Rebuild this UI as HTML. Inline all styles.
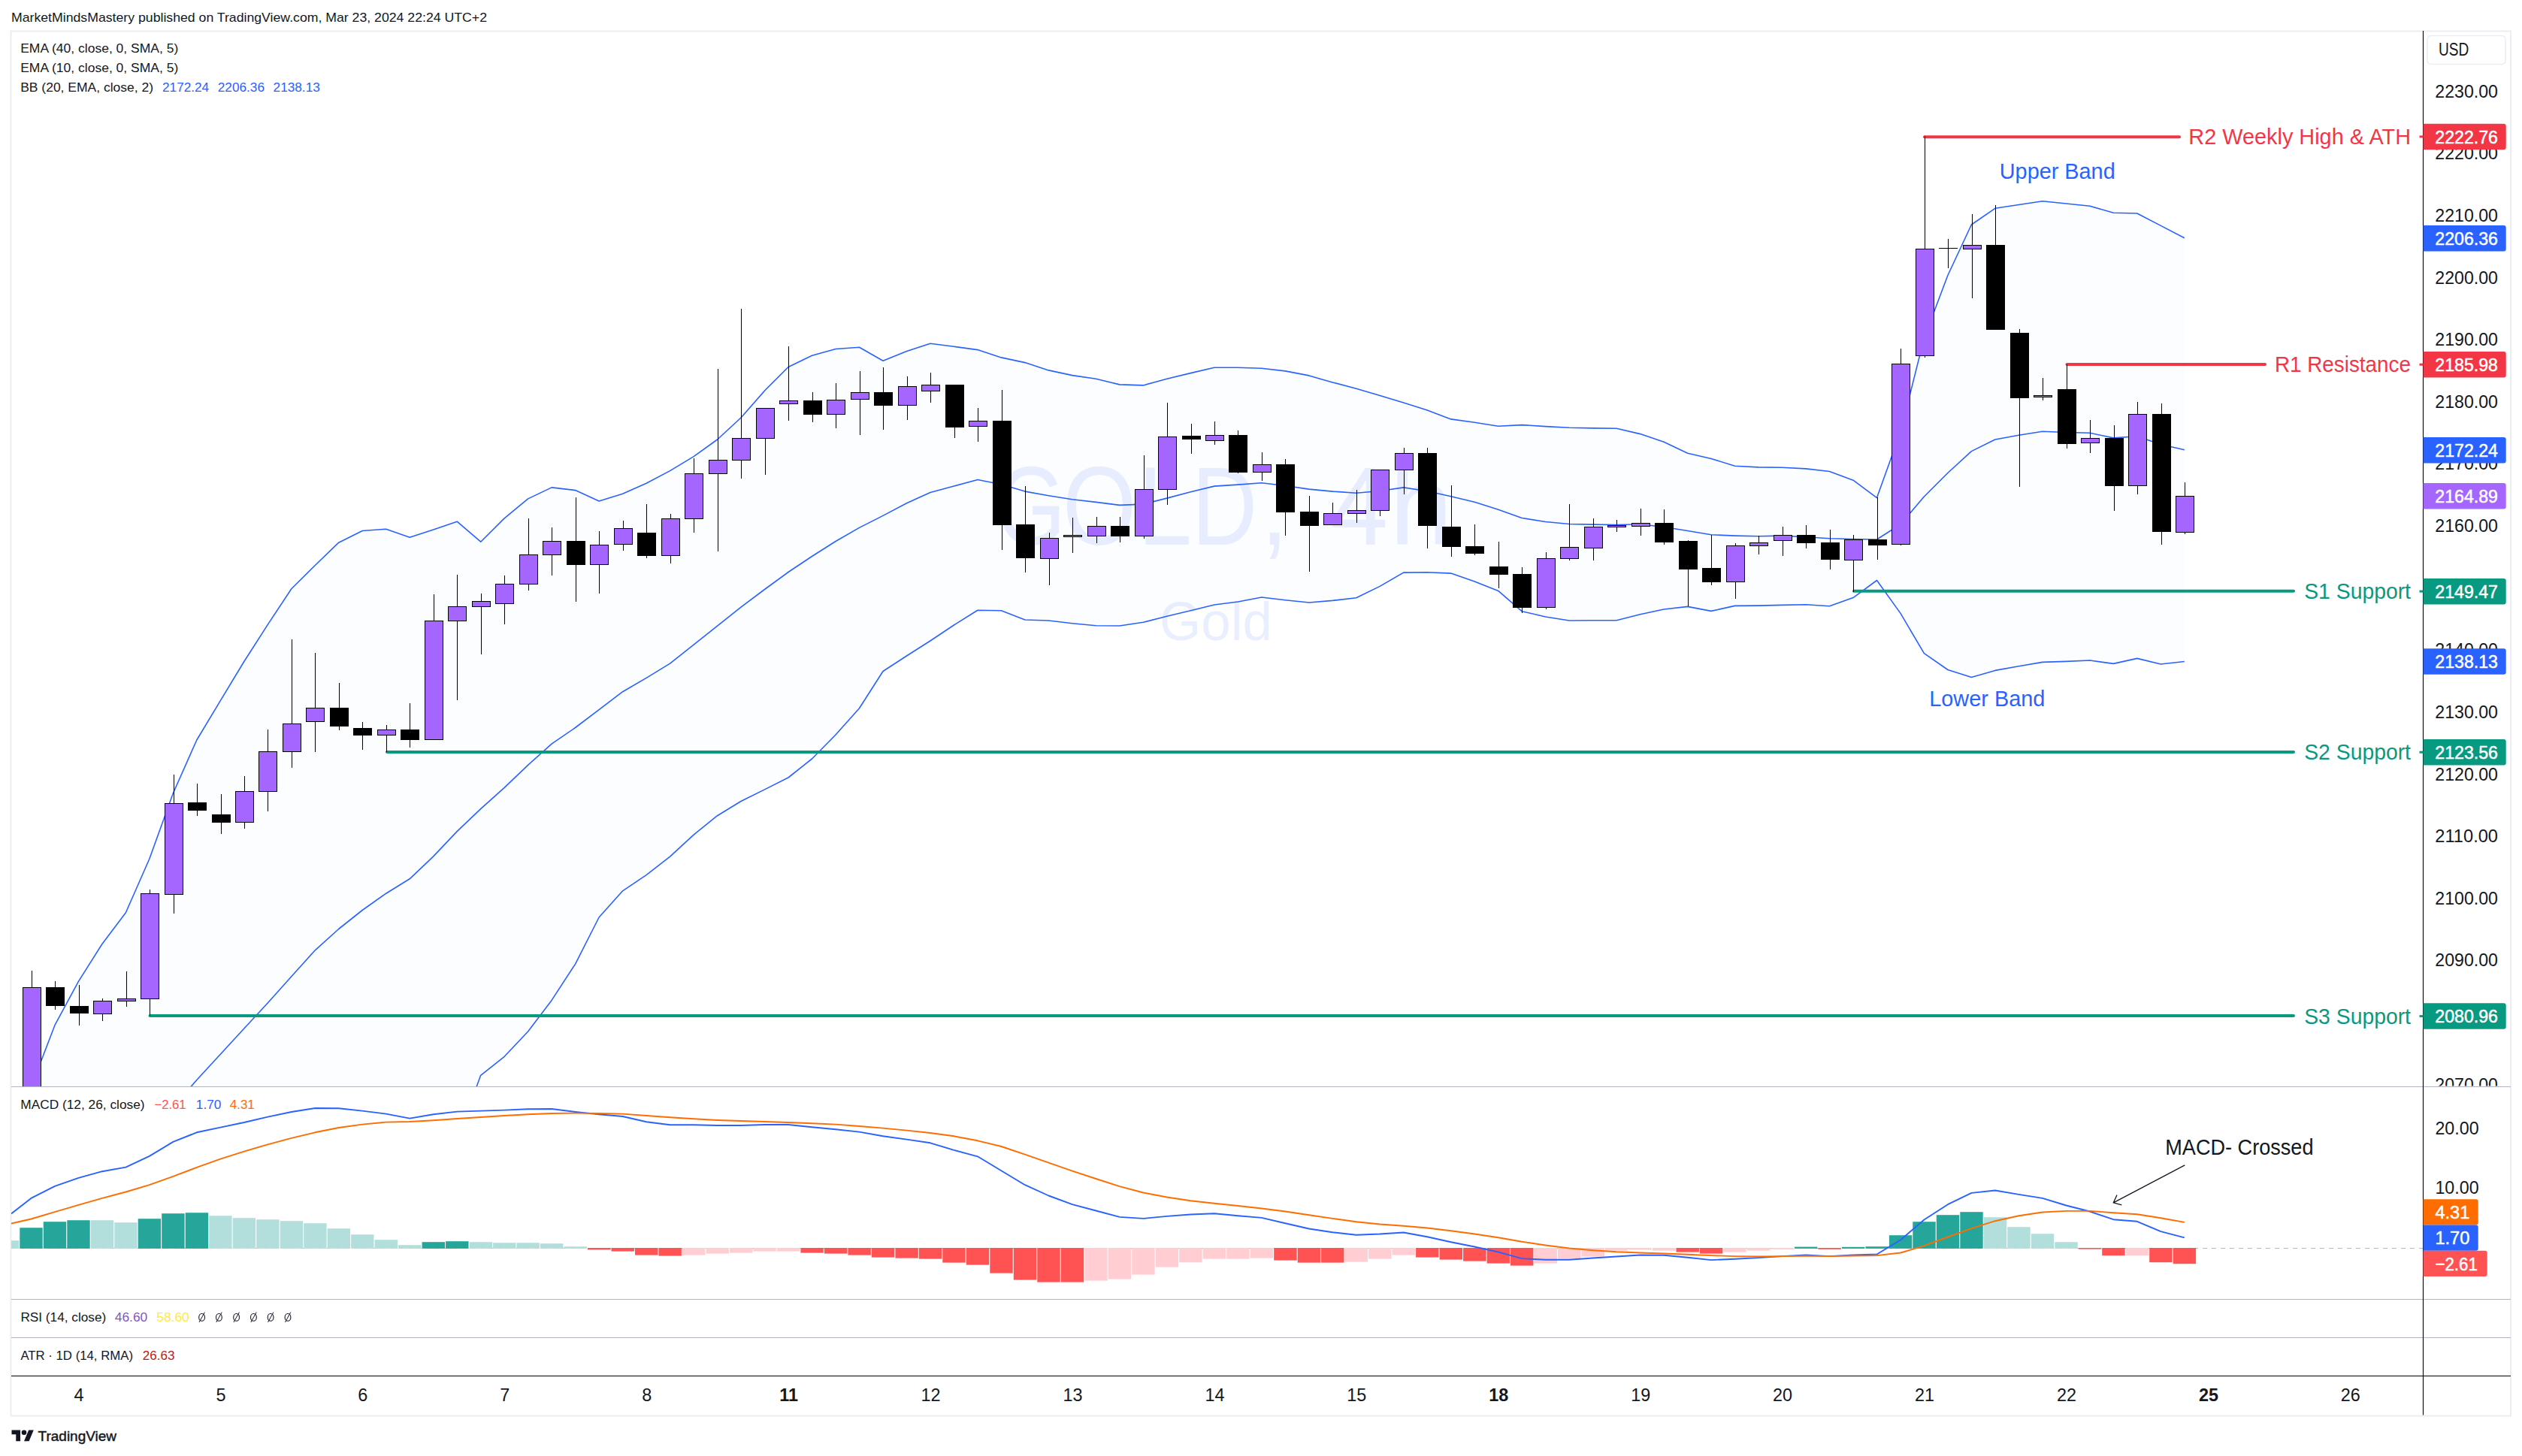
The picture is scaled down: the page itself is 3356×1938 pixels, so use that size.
<!DOCTYPE html>
<html><head><meta charset="utf-8"><title>GOLD 4h</title><style>html,body{margin:0;padding:0;background:#fff}body{width:3356px;height:1938px;overflow:hidden}</style></head><body>
<svg width="3356" height="1938" viewBox="0 0 3356 1938" font-family="'Liberation Sans', sans-serif" style="display:block">
<defs>
<clipPath id="cm"><rect x="15" y="42" width="3209.5" height="1404.5"/></clipPath>
<clipPath id="cax"><rect x="3224.5" y="42" width="116.5" height="1403.5"/></clipPath>
<clipPath id="cd"><rect x="15" y="1446.5" width="3209.5" height="283.0"/></clipPath>
</defs>
<rect width="3356" height="1938" fill="#fff"/>
<text x="15.0" y="28.9" font-size="16.6" fill="#131722" textLength="633.0" lengthAdjust="spacingAndGlyphs" >MarketMindsMastery published on TradingView.com, Mar 23, 2024 22:24 UTC+2</text>
<rect x="14.5" y="41.5" width="3326.5" height="1843.1" fill="none" stroke="#EBEDF3" stroke-width="2"/>
<text x="1325.0" y="725.0" font-size="149" fill="#EAEFFF" textLength="93.0" lengthAdjust="spacingAndGlyphs" >G</text>
<text x="1414.0" y="725.0" font-size="149" fill="#EAEFFF" textLength="98.0" lengthAdjust="spacingAndGlyphs" >O</text>
<text x="1514.0" y="725.0" font-size="149" fill="#EAEFFF" textLength="72.0" lengthAdjust="spacingAndGlyphs" >L</text>
<text x="1586.0" y="725.0" font-size="149" fill="#EAEFFF" textLength="87.0" lengthAdjust="spacingAndGlyphs" >D</text>
<text x="1678.0" y="725.0" font-size="149" fill="#EAEFFF" textLength="36.0" lengthAdjust="spacingAndGlyphs" >,</text>
<text x="1770.0" y="725.0" font-size="149" fill="#EAEFFF" textLength="77.0" lengthAdjust="spacingAndGlyphs" >4</text>
<text x="1849.0" y="725.0" font-size="149" fill="#EAEFFF" textLength="84.0" lengthAdjust="spacingAndGlyphs" >h</text>
<text x="1543.0" y="852.0" font-size="72" fill="#EAEFFF" textLength="150.0" lengthAdjust="spacingAndGlyphs" >Gold</text>
<g clip-path="url(#cm)">
<polygon fill="rgba(41,98,255,0.013)" points="41.4,1447.0 72.9,1364.7 104.4,1306.4 135.9,1256.5 167.4,1214.8 198.8,1143.2 230.3,1056.0 261.8,985.0 293.3,932.6 324.8,880.5 356.3,831.4 387.8,783.8 419.3,752.5 450.7,722.2 482.2,706.5 513.7,704.2 545.2,715.2 576.7,704.9 608.2,694.2 639.7,721.2 671.2,689.9 702.6,663.9 734.1,648.9 765.6,652.6 797.1,666.9 828.6,657.3 860.1,643.3 891.6,626.6 923.1,607.6 954.6,585.0 986.0,556.0 1017.5,520.0 1049.0,488.5 1080.5,473.3 1112.0,464.5 1143.5,462.3 1175.0,480.3 1206.5,467.6 1237.9,457.3 1269.4,461.3 1300.9,465.6 1332.4,475.9 1363.9,482.6 1395.4,492.9 1426.9,499.6 1458.4,504.2 1489.8,511.9 1521.3,512.9 1552.8,504.2 1584.3,496.6 1615.8,489.3 1647.3,489.3 1678.8,490.3 1710.3,493.9 1741.8,499.9 1773.2,508.9 1804.7,517.2 1836.2,526.6 1867.7,535.9 1899.2,545.9 1930.7,557.9 1962.2,562.3 1993.7,567.2 2025.1,565.6 2056.6,567.6 2088.1,569.2 2119.6,569.9 2151.1,570.2 2182.6,577.6 2214.1,588.2 2245.6,603.2 2277.0,610.5 2308.5,620.2 2340.0,621.9 2371.5,622.2 2403.0,623.9 2434.5,627.5 2466.0,639.2 2497.5,662.6 2529.0,575.0 2560.4,450.0 2591.9,366.5 2623.4,299.0 2654.9,277.3 2686.4,272.5 2717.9,267.8 2749.4,271.0 2780.9,274.3 2812.3,283.2 2843.8,284.0 2875.3,300.4 2906.8,316.8 2906.8,880.5 2875.3,884.0 2843.8,876.4 2812.3,883.4 2780.9,879.0 2749.4,880.4 2717.9,881.4 2686.4,886.7 2654.9,892.4 2623.4,901.5 2591.9,891.5 2560.4,869.7 2529.0,816.4 2497.5,772.5 2466.0,795.6 2434.5,806.7 2403.0,804.7 2371.5,805.4 2340.0,806.1 2308.5,806.4 2277.0,813.4 2245.6,807.4 2214.1,811.0 2182.6,817.7 2151.1,825.7 2119.6,825.7 2088.1,826.0 2056.6,821.0 2025.1,813.7 1993.7,786.4 1962.2,774.1 1930.7,763.1 1899.2,761.8 1867.7,762.1 1836.2,780.4 1804.7,795.7 1773.2,799.4 1741.8,802.0 1710.3,798.7 1678.8,795.0 1647.3,801.0 1615.8,805.0 1584.3,812.7 1552.8,820.3 1521.3,828.3 1489.8,833.0 1458.4,832.7 1426.9,829.7 1395.4,826.0 1363.9,825.0 1332.4,812.7 1300.9,812.2 1269.4,832.0 1237.9,853.0 1206.5,873.0 1175.0,893.5 1143.5,942.8 1112.0,978.0 1080.5,1010.0 1049.0,1035.0 1017.5,1050.9 986.0,1066.5 954.6,1085.7 923.1,1111.1 891.6,1140.1 860.1,1164.7 828.6,1185.8 797.1,1221.0 765.6,1283.1 734.1,1331.4 702.6,1373.0 671.2,1406.3 639.7,1431.3 608.2,1517.0 576.7,1600.0 545.2,1600.0 513.7,1600.0 482.2,1600.0 450.7,1600.0 419.3,1600.0 387.8,1600.0 356.3,1600.0 324.8,1600.0 293.3,1600.0 261.8,1600.0 230.3,1600.0 198.8,1600.0 167.4,1600.0 135.9,1600.0 104.4,1600.0 72.9,1600.0 41.4,1600.0"/>
<polyline fill="none" stroke="#2962FF" stroke-width="1.6" stroke-linejoin="round" points="41.4,1447.0 72.9,1364.7 104.4,1306.4 135.9,1256.5 167.4,1214.8 198.8,1143.2 230.3,1056.0 261.8,985.0 293.3,932.6 324.8,880.5 356.3,831.4 387.8,783.8 419.3,752.5 450.7,722.2 482.2,706.5 513.7,704.2 545.2,715.2 576.7,704.9 608.2,694.2 639.7,721.2 671.2,689.9 702.6,663.9 734.1,648.9 765.6,652.6 797.1,666.9 828.6,657.3 860.1,643.3 891.6,626.6 923.1,607.6 954.6,585.0 986.0,556.0 1017.5,520.0 1049.0,488.5 1080.5,473.3 1112.0,464.5 1143.5,462.3 1175.0,480.3 1206.5,467.6 1237.9,457.3 1269.4,461.3 1300.9,465.6 1332.4,475.9 1363.9,482.6 1395.4,492.9 1426.9,499.6 1458.4,504.2 1489.8,511.9 1521.3,512.9 1552.8,504.2 1584.3,496.6 1615.8,489.3 1647.3,489.3 1678.8,490.3 1710.3,493.9 1741.8,499.9 1773.2,508.9 1804.7,517.2 1836.2,526.6 1867.7,535.9 1899.2,545.9 1930.7,557.9 1962.2,562.3 1993.7,567.2 2025.1,565.6 2056.6,567.6 2088.1,569.2 2119.6,569.9 2151.1,570.2 2182.6,577.6 2214.1,588.2 2245.6,603.2 2277.0,610.5 2308.5,620.2 2340.0,621.9 2371.5,622.2 2403.0,623.9 2434.5,627.5 2466.0,639.2 2497.5,662.6 2529.0,575.0 2560.4,450.0 2591.9,366.5 2623.4,299.0 2654.9,277.3 2686.4,272.5 2717.9,267.8 2749.4,271.0 2780.9,274.3 2812.3,283.2 2843.8,284.0 2875.3,300.4 2906.8,316.8"/>
<polyline fill="none" stroke="#2962FF" stroke-width="1.6" stroke-linejoin="round" points="230.3,1474.0 261.8,1437.5 293.3,1403.2 324.8,1369.0 356.3,1335.0 387.8,1299.8 419.3,1264.8 450.7,1236.5 482.2,1211.5 513.7,1189.2 545.2,1169.8 576.7,1139.9 608.2,1106.6 639.7,1076.6 671.2,1048.3 702.6,1018.3 734.1,990.2 765.6,968.5 797.1,944.7 828.6,920.7 860.1,902.4 891.6,883.1 923.1,858.1 954.6,833.1 986.0,808.1 1017.5,784.5 1049.0,761.5 1080.5,740.5 1112.0,720.5 1143.5,702.4 1175.0,686.4 1206.5,669.8 1237.9,655.5 1269.4,647.1 1300.9,638.5 1332.4,644.8 1363.9,654.1 1395.4,659.8 1426.9,664.8 1458.4,668.4 1489.8,672.4 1521.3,671.1 1552.8,663.1 1584.3,654.8 1615.8,647.1 1647.3,645.1 1678.8,642.8 1710.3,646.5 1741.8,651.1 1773.2,654.1 1804.7,656.2 1836.2,653.5 1867.7,648.9 1899.2,653.8 1930.7,660.8 1962.2,668.2 1993.7,678.2 2025.1,689.5 2056.6,694.5 2088.1,697.5 2119.6,698.1 2151.1,698.5 2182.6,697.8 2214.1,701.5 2245.6,706.5 2277.0,711.8 2308.5,713.1 2340.0,713.8 2371.5,713.1 2403.0,714.8 2434.5,716.8 2466.0,717.5 2497.5,718.0 2529.0,698.0 2560.4,661.0 2591.9,629.5 2623.4,600.6 2654.9,585.0 2686.4,579.2 2717.9,574.2 2749.4,575.5 2780.9,576.3 2812.3,582.9 2843.8,580.8 2875.3,591.5 2906.8,598.7"/>
<polyline fill="none" stroke="#2962FF" stroke-width="1.6" stroke-linejoin="round" points="608.2,1517.0 639.7,1431.3 671.2,1406.3 702.6,1373.0 734.1,1331.4 765.6,1283.1 797.1,1221.0 828.6,1185.8 860.1,1164.7 891.6,1140.1 923.1,1111.1 954.6,1085.7 986.0,1066.5 1017.5,1050.9 1049.0,1035.0 1080.5,1010.0 1112.0,978.0 1143.5,942.8 1175.0,893.5 1206.5,873.0 1237.9,853.0 1269.4,832.0 1300.9,812.2 1332.4,812.7 1363.9,825.0 1395.4,826.0 1426.9,829.7 1458.4,832.7 1489.8,833.0 1521.3,828.3 1552.8,820.3 1584.3,812.7 1615.8,805.0 1647.3,801.0 1678.8,795.0 1710.3,798.7 1741.8,802.0 1773.2,799.4 1804.7,795.7 1836.2,780.4 1867.7,762.1 1899.2,761.8 1930.7,763.1 1962.2,774.1 1993.7,786.4 2025.1,813.7 2056.6,821.0 2088.1,826.0 2119.6,825.7 2151.1,825.7 2182.6,817.7 2214.1,811.0 2245.6,807.4 2277.0,813.4 2308.5,806.4 2340.0,806.1 2371.5,805.4 2403.0,804.7 2434.5,806.7 2466.0,795.6 2497.5,772.5 2529.0,816.4 2560.4,869.7 2591.9,891.5 2623.4,901.5 2654.9,892.4 2686.4,886.7 2717.9,881.4 2749.4,880.4 2780.9,879.0 2812.3,883.4 2843.8,876.4 2875.3,884.0 2906.8,880.5"/>
<line x1="2561" x2="2900" y1="182.2" y2="182.2" stroke="#F23645" stroke-width="4" stroke-linecap="round"/>
<line x1="2750.5" x2="3014" y1="485" y2="485" stroke="#F23645" stroke-width="4" stroke-linecap="round"/>
<line x1="2467" x2="3052" y1="786.8" y2="786.8" stroke="#089981" stroke-width="4" stroke-linecap="round"/>
<line x1="515" x2="3052" y1="1001" y2="1001" stroke="#089981" stroke-width="4" stroke-linecap="round"/>
<line x1="199.5" x2="3052" y1="1352.0" y2="1352.0" stroke="#089981" stroke-width="4" stroke-linecap="round"/>
<rect x="42" y="1292" width="1" height="178" fill="#000"/>
<rect x="30" y="1314" width="25" height="156" fill="#000"/>
<rect x="31" y="1315" width="23" height="154" fill="#A566FF"/>
<rect x="73" y="1306" width="1" height="38" fill="#000"/>
<rect x="61" y="1314" width="25" height="25" fill="#000"/>
<rect x="105" y="1311" width="1" height="54" fill="#000"/>
<rect x="93" y="1339" width="25" height="10" fill="#000"/>
<rect x="136" y="1329" width="1" height="30" fill="#000"/>
<rect x="124" y="1332" width="25" height="18" fill="#000"/>
<rect x="125" y="1333" width="23" height="16" fill="#A566FF"/>
<rect x="168" y="1293" width="1" height="47" fill="#000"/>
<rect x="156" y="1329" width="25" height="4" fill="#000"/>
<rect x="157" y="1330" width="23" height="2" fill="#A566FF"/>
<rect x="199" y="1184" width="1" height="168" fill="#000"/>
<rect x="187" y="1189" width="25" height="141" fill="#000"/>
<rect x="188" y="1190" width="23" height="139" fill="#A566FF"/>
<rect x="231" y="1031" width="1" height="185" fill="#000"/>
<rect x="219" y="1069" width="25" height="122" fill="#000"/>
<rect x="220" y="1070" width="23" height="120" fill="#A566FF"/>
<rect x="262" y="1043" width="1" height="43" fill="#000"/>
<rect x="250" y="1068" width="25" height="11" fill="#000"/>
<rect x="294" y="1057" width="1" height="53" fill="#000"/>
<rect x="282" y="1084" width="25" height="11" fill="#000"/>
<rect x="325" y="1033" width="1" height="70" fill="#000"/>
<rect x="313" y="1053" width="25" height="42" fill="#000"/>
<rect x="314" y="1054" width="23" height="40" fill="#A566FF"/>
<rect x="356" y="971" width="1" height="109" fill="#000"/>
<rect x="344" y="1000" width="25" height="54" fill="#000"/>
<rect x="345" y="1001" width="23" height="52" fill="#A566FF"/>
<rect x="388" y="851" width="1" height="171" fill="#000"/>
<rect x="376" y="963" width="25" height="38" fill="#000"/>
<rect x="377" y="964" width="23" height="36" fill="#A566FF"/>
<rect x="419" y="869" width="1" height="132" fill="#000"/>
<rect x="407" y="942" width="25" height="19" fill="#000"/>
<rect x="408" y="943" width="23" height="17" fill="#A566FF"/>
<rect x="451" y="909" width="1" height="63" fill="#000"/>
<rect x="439" y="942" width="25" height="25" fill="#000"/>
<rect x="482" y="961" width="1" height="37" fill="#000"/>
<rect x="470" y="969" width="25" height="10" fill="#000"/>
<rect x="514" y="965" width="1" height="36" fill="#000"/>
<rect x="502" y="971" width="25" height="8" fill="#000"/>
<rect x="503" y="972" width="23" height="6" fill="#A566FF"/>
<rect x="545" y="936" width="1" height="59" fill="#000"/>
<rect x="533" y="971" width="25" height="14" fill="#000"/>
<rect x="577" y="791" width="1" height="194" fill="#000"/>
<rect x="565" y="826" width="25" height="159" fill="#000"/>
<rect x="566" y="827" width="23" height="157" fill="#A566FF"/>
<rect x="608" y="765" width="1" height="167" fill="#000"/>
<rect x="596" y="807" width="25" height="20" fill="#000"/>
<rect x="597" y="808" width="23" height="18" fill="#A566FF"/>
<rect x="640" y="790" width="1" height="81" fill="#000"/>
<rect x="628" y="800" width="25" height="8" fill="#000"/>
<rect x="629" y="801" width="23" height="6" fill="#A566FF"/>
<rect x="671" y="766" width="1" height="65" fill="#000"/>
<rect x="659" y="777" width="25" height="27" fill="#000"/>
<rect x="660" y="778" width="23" height="25" fill="#A566FF"/>
<rect x="703" y="690" width="1" height="96" fill="#000"/>
<rect x="691" y="738" width="25" height="40" fill="#000"/>
<rect x="692" y="739" width="23" height="38" fill="#A566FF"/>
<rect x="734" y="702" width="1" height="64" fill="#000"/>
<rect x="722" y="720" width="25" height="19" fill="#000"/>
<rect x="723" y="721" width="23" height="17" fill="#A566FF"/>
<rect x="766" y="662" width="1" height="139" fill="#000"/>
<rect x="754" y="720" width="25" height="32" fill="#000"/>
<rect x="797" y="707" width="1" height="83" fill="#000"/>
<rect x="785" y="725" width="25" height="27" fill="#000"/>
<rect x="786" y="726" width="23" height="25" fill="#A566FF"/>
<rect x="829" y="693" width="1" height="40" fill="#000"/>
<rect x="817" y="703" width="25" height="22" fill="#000"/>
<rect x="818" y="704" width="23" height="20" fill="#A566FF"/>
<rect x="860" y="671" width="1" height="72" fill="#000"/>
<rect x="848" y="709" width="25" height="31" fill="#000"/>
<rect x="892" y="684" width="1" height="66" fill="#000"/>
<rect x="880" y="690" width="25" height="50" fill="#000"/>
<rect x="881" y="691" width="23" height="48" fill="#A566FF"/>
<rect x="923" y="610" width="1" height="99" fill="#000"/>
<rect x="911" y="630" width="25" height="61" fill="#000"/>
<rect x="912" y="631" width="23" height="59" fill="#A566FF"/>
<rect x="955" y="491" width="1" height="243" fill="#000"/>
<rect x="943" y="612" width="25" height="19" fill="#000"/>
<rect x="944" y="613" width="23" height="17" fill="#A566FF"/>
<rect x="986" y="411" width="1" height="226" fill="#000"/>
<rect x="974" y="583" width="25" height="30" fill="#000"/>
<rect x="975" y="584" width="23" height="28" fill="#A566FF"/>
<rect x="1018" y="543" width="1" height="89" fill="#000"/>
<rect x="1006" y="543" width="25" height="41" fill="#000"/>
<rect x="1007" y="544" width="23" height="39" fill="#A566FF"/>
<rect x="1049" y="461" width="1" height="99" fill="#000"/>
<rect x="1037" y="533" width="25" height="5" fill="#000"/>
<rect x="1038" y="534" width="23" height="3" fill="#A566FF"/>
<rect x="1081" y="522" width="1" height="40" fill="#000"/>
<rect x="1069" y="533" width="25" height="19" fill="#000"/>
<rect x="1112" y="510" width="1" height="60" fill="#000"/>
<rect x="1100" y="532" width="25" height="20" fill="#000"/>
<rect x="1101" y="533" width="23" height="18" fill="#A566FF"/>
<rect x="1144" y="494" width="1" height="85" fill="#000"/>
<rect x="1132" y="522" width="25" height="10" fill="#000"/>
<rect x="1133" y="523" width="23" height="8" fill="#A566FF"/>
<rect x="1175" y="489" width="1" height="83" fill="#000"/>
<rect x="1163" y="522" width="25" height="18" fill="#000"/>
<rect x="1207" y="501" width="1" height="58" fill="#000"/>
<rect x="1195" y="514" width="25" height="26" fill="#000"/>
<rect x="1196" y="515" width="23" height="24" fill="#A566FF"/>
<rect x="1238" y="496" width="1" height="40" fill="#000"/>
<rect x="1226" y="512" width="25" height="9" fill="#000"/>
<rect x="1227" y="513" width="23" height="7" fill="#A566FF"/>
<rect x="1270" y="512" width="1" height="71" fill="#000"/>
<rect x="1258" y="512" width="25" height="57" fill="#000"/>
<rect x="1301" y="543" width="1" height="45" fill="#000"/>
<rect x="1289" y="560" width="25" height="8" fill="#000"/>
<rect x="1290" y="561" width="23" height="6" fill="#A566FF"/>
<rect x="1333" y="519" width="1" height="213" fill="#000"/>
<rect x="1321" y="560" width="25" height="139" fill="#000"/>
<rect x="1364" y="647" width="1" height="115" fill="#000"/>
<rect x="1352" y="698" width="25" height="45" fill="#000"/>
<rect x="1396" y="709" width="1" height="70" fill="#000"/>
<rect x="1384" y="716" width="25" height="28" fill="#000"/>
<rect x="1385" y="717" width="23" height="26" fill="#A566FF"/>
<rect x="1427" y="689" width="1" height="47" fill="#000"/>
<rect x="1415" y="712" width="25" height="3" fill="#000"/>
<rect x="1416" y="713" width="23" height="1" fill="#A566FF"/>
<rect x="1459" y="688" width="1" height="35" fill="#000"/>
<rect x="1447" y="700" width="25" height="14" fill="#000"/>
<rect x="1448" y="701" width="23" height="12" fill="#A566FF"/>
<rect x="1490" y="688" width="1" height="34" fill="#000"/>
<rect x="1478" y="700" width="25" height="14" fill="#000"/>
<rect x="1522" y="606" width="1" height="111" fill="#000"/>
<rect x="1510" y="651" width="25" height="63" fill="#000"/>
<rect x="1511" y="652" width="23" height="61" fill="#A566FF"/>
<rect x="1553" y="536" width="1" height="136" fill="#000"/>
<rect x="1541" y="581" width="25" height="71" fill="#000"/>
<rect x="1542" y="582" width="23" height="69" fill="#A566FF"/>
<rect x="1585" y="564" width="1" height="40" fill="#000"/>
<rect x="1573" y="580" width="25" height="5" fill="#000"/>
<rect x="1616" y="561" width="1" height="31" fill="#000"/>
<rect x="1604" y="579" width="25" height="8" fill="#000"/>
<rect x="1605" y="580" width="23" height="6" fill="#A566FF"/>
<rect x="1647" y="573" width="1" height="57" fill="#000"/>
<rect x="1635" y="579" width="25" height="50" fill="#000"/>
<rect x="1679" y="602" width="1" height="38" fill="#000"/>
<rect x="1667" y="618" width="25" height="11" fill="#000"/>
<rect x="1668" y="619" width="23" height="9" fill="#A566FF"/>
<rect x="1710" y="611" width="1" height="102" fill="#000"/>
<rect x="1698" y="618" width="25" height="64" fill="#000"/>
<rect x="1742" y="660" width="1" height="101" fill="#000"/>
<rect x="1730" y="681" width="25" height="19" fill="#000"/>
<rect x="1773" y="669" width="1" height="30" fill="#000"/>
<rect x="1761" y="683" width="25" height="16" fill="#000"/>
<rect x="1762" y="684" width="23" height="14" fill="#A566FF"/>
<rect x="1805" y="652" width="1" height="44" fill="#000"/>
<rect x="1793" y="679" width="25" height="5" fill="#000"/>
<rect x="1794" y="680" width="23" height="3" fill="#A566FF"/>
<rect x="1836" y="625" width="1" height="62" fill="#000"/>
<rect x="1824" y="625" width="25" height="55" fill="#000"/>
<rect x="1825" y="626" width="23" height="53" fill="#A566FF"/>
<rect x="1868" y="596" width="1" height="62" fill="#000"/>
<rect x="1856" y="603" width="25" height="23" fill="#000"/>
<rect x="1857" y="604" width="23" height="21" fill="#A566FF"/>
<rect x="1899" y="596" width="1" height="134" fill="#000"/>
<rect x="1887" y="603" width="25" height="97" fill="#000"/>
<rect x="1931" y="646" width="1" height="95" fill="#000"/>
<rect x="1919" y="701" width="25" height="27" fill="#000"/>
<rect x="1962" y="698" width="1" height="41" fill="#000"/>
<rect x="1950" y="727" width="25" height="10" fill="#000"/>
<rect x="1994" y="721" width="1" height="62" fill="#000"/>
<rect x="1982" y="754" width="25" height="11" fill="#000"/>
<rect x="2025" y="755" width="1" height="61" fill="#000"/>
<rect x="2013" y="764" width="25" height="45" fill="#000"/>
<rect x="2057" y="735" width="1" height="76" fill="#000"/>
<rect x="2045" y="743" width="25" height="66" fill="#000"/>
<rect x="2046" y="744" width="23" height="64" fill="#A566FF"/>
<rect x="2088" y="671" width="1" height="75" fill="#000"/>
<rect x="2076" y="728" width="25" height="16" fill="#000"/>
<rect x="2077" y="729" width="23" height="14" fill="#A566FF"/>
<rect x="2120" y="690" width="1" height="56" fill="#000"/>
<rect x="2108" y="701" width="25" height="29" fill="#000"/>
<rect x="2109" y="702" width="23" height="27" fill="#A566FF"/>
<rect x="2151" y="692" width="1" height="16" fill="#000"/>
<rect x="2139" y="699" width="25" height="3" fill="#000"/>
<rect x="2140" y="700" width="23" height="1" fill="#A566FF"/>
<rect x="2183" y="677" width="1" height="36" fill="#000"/>
<rect x="2171" y="696" width="25" height="5" fill="#000"/>
<rect x="2172" y="697" width="23" height="3" fill="#A566FF"/>
<rect x="2214" y="678" width="1" height="47" fill="#000"/>
<rect x="2202" y="696" width="25" height="26" fill="#000"/>
<rect x="2246" y="719" width="1" height="88" fill="#000"/>
<rect x="2234" y="720" width="25" height="38" fill="#000"/>
<rect x="2277" y="712" width="1" height="67" fill="#000"/>
<rect x="2265" y="756" width="25" height="19" fill="#000"/>
<rect x="2309" y="723" width="1" height="74" fill="#000"/>
<rect x="2297" y="726" width="25" height="49" fill="#000"/>
<rect x="2298" y="727" width="23" height="47" fill="#A566FF"/>
<rect x="2340" y="713" width="1" height="25" fill="#000"/>
<rect x="2328" y="722" width="25" height="5" fill="#000"/>
<rect x="2329" y="723" width="23" height="3" fill="#A566FF"/>
<rect x="2372" y="701" width="1" height="39" fill="#000"/>
<rect x="2360" y="712" width="25" height="8" fill="#000"/>
<rect x="2361" y="713" width="23" height="6" fill="#A566FF"/>
<rect x="2403" y="699" width="1" height="31" fill="#000"/>
<rect x="2391" y="712" width="25" height="11" fill="#000"/>
<rect x="2435" y="705" width="1" height="53" fill="#000"/>
<rect x="2423" y="722" width="25" height="23" fill="#000"/>
<rect x="2466" y="712" width="1" height="76" fill="#000"/>
<rect x="2454" y="718" width="25" height="28" fill="#000"/>
<rect x="2455" y="719" width="23" height="26" fill="#A566FF"/>
<rect x="2498" y="662" width="1" height="83" fill="#000"/>
<rect x="2486" y="718" width="25" height="8" fill="#000"/>
<rect x="2529" y="464" width="1" height="262" fill="#000"/>
<rect x="2517" y="484" width="25" height="241" fill="#000"/>
<rect x="2518" y="485" width="23" height="239" fill="#A566FF"/>
<rect x="2561" y="181" width="1" height="295" fill="#000"/>
<rect x="2549" y="331" width="25" height="143" fill="#000"/>
<rect x="2550" y="332" width="23" height="141" fill="#A566FF"/>
<rect x="2592" y="318" width="1" height="39" fill="#000"/>
<rect x="2580" y="330" width="25" height="1" fill="#000"/>
<rect x="2624" y="285" width="1" height="112" fill="#000"/>
<rect x="2612" y="326" width="25" height="6" fill="#000"/>
<rect x="2613" y="327" width="23" height="4" fill="#A566FF"/>
<rect x="2655" y="273" width="1" height="166" fill="#000"/>
<rect x="2643" y="326" width="25" height="113" fill="#000"/>
<rect x="2687" y="438" width="1" height="210" fill="#000"/>
<rect x="2675" y="443" width="25" height="87" fill="#000"/>
<rect x="2718" y="503" width="1" height="30" fill="#000"/>
<rect x="2706" y="526" width="25" height="3" fill="#000"/>
<rect x="2707" y="527" width="23" height="1" fill="#A566FF"/>
<rect x="2750" y="485" width="1" height="112" fill="#000"/>
<rect x="2738" y="518" width="25" height="73" fill="#000"/>
<rect x="2781" y="559" width="1" height="44" fill="#000"/>
<rect x="2769" y="583" width="25" height="7" fill="#000"/>
<rect x="2770" y="584" width="23" height="5" fill="#A566FF"/>
<rect x="2813" y="566" width="1" height="114" fill="#000"/>
<rect x="2801" y="583" width="25" height="64" fill="#000"/>
<rect x="2844" y="535" width="1" height="123" fill="#000"/>
<rect x="2832" y="551" width="25" height="96" fill="#000"/>
<rect x="2833" y="552" width="23" height="94" fill="#A566FF"/>
<rect x="2876" y="537" width="1" height="188" fill="#000"/>
<rect x="2864" y="551" width="25" height="157" fill="#000"/>
<rect x="2907" y="642" width="1" height="69" fill="#000"/>
<rect x="2895" y="660" width="25" height="49" fill="#000"/>
<rect x="2896" y="661" width="23" height="47" fill="#A566FF"/>
</g>
<text x="2912.3" y="192.0" font-size="29" fill="#F23645" textLength="295.7" lengthAdjust="spacingAndGlyphs" >R2 Weekly High &amp; ATH</text>
<text x="3026.9" y="495.3" font-size="29" fill="#F23645" textLength="181.1" lengthAdjust="spacingAndGlyphs" >R1 Resistance</text>
<text x="3066.2" y="797.1" font-size="29" fill="#089981" textLength="141.8" lengthAdjust="spacingAndGlyphs" >S1 Support</text>
<text x="3066.2" y="1011.3" font-size="29" fill="#089981" textLength="141.8" lengthAdjust="spacingAndGlyphs" >S2 Support</text>
<text x="3066.2" y="1362.9" font-size="29" fill="#089981" textLength="141.8" lengthAdjust="spacingAndGlyphs" >S3 Support</text>
<text x="2660.8" y="237.9" font-size="29" fill="#2962FF" textLength="153.9" lengthAdjust="spacingAndGlyphs" >Upper Band</text>
<text x="2567.2" y="940.0" font-size="29" fill="#2962FF" textLength="154.2" lengthAdjust="spacingAndGlyphs" >Lower Band</text>
<text x="27.2" y="70.0" font-size="16.8" fill="#131722" textLength="210.1" lengthAdjust="spacingAndGlyphs" >EMA (40, close, 0, SMA, 5)</text>
<text x="27.2" y="95.8" font-size="16.8" fill="#131722" textLength="210.1" lengthAdjust="spacingAndGlyphs" >EMA (10, close, 0, SMA, 5)</text>
<text x="27.2" y="121.6" font-size="16.8" fill="#131722" textLength="176.8" lengthAdjust="spacingAndGlyphs" >BB (20, EMA, close, 2)</text>
<text x="216.0" y="121.6" font-size="16.8" fill="#2962FF" textLength="62.2" lengthAdjust="spacingAndGlyphs" >2172.24</text>
<text x="289.8" y="121.6" font-size="16.8" fill="#2962FF" textLength="62.2" lengthAdjust="spacingAndGlyphs" >2206.36</text>
<text x="363.6" y="121.6" font-size="16.8" fill="#2962FF" textLength="62.2" lengthAdjust="spacingAndGlyphs" >2138.13</text>
<g clip-path="url(#cd)">
<line x1="15" x2="3224.5" y1="1661.5" y2="1661.5" stroke="#B4B7C0" stroke-width="1" stroke-dasharray="6 6"/>
<rect x="-5.2" y="1651.2" width="30.4" height="10.7" fill="#B2DFDB"/>
<rect x="26.3" y="1634.2" width="30.4" height="27.7" fill="#26A69A"/>
<rect x="57.8" y="1626.2" width="30.4" height="35.7" fill="#26A69A"/>
<rect x="89.3" y="1624.2" width="30.4" height="37.7" fill="#26A69A"/>
<rect x="120.8" y="1624.2" width="30.4" height="37.7" fill="#B2DFDB"/>
<rect x="152.3" y="1627.2" width="30.4" height="34.7" fill="#B2DFDB"/>
<rect x="183.7" y="1622.2" width="30.4" height="39.7" fill="#26A69A"/>
<rect x="215.2" y="1615.2" width="30.4" height="46.7" fill="#26A69A"/>
<rect x="246.7" y="1614.2" width="30.4" height="47.7" fill="#26A69A"/>
<rect x="278.2" y="1618.2" width="30.4" height="43.7" fill="#B2DFDB"/>
<rect x="309.7" y="1621.2" width="30.4" height="40.7" fill="#B2DFDB"/>
<rect x="341.2" y="1623.2" width="30.4" height="38.7" fill="#B2DFDB"/>
<rect x="372.7" y="1625.2" width="30.4" height="36.7" fill="#B2DFDB"/>
<rect x="404.2" y="1628.2" width="30.4" height="33.7" fill="#B2DFDB"/>
<rect x="435.6" y="1635.2" width="30.4" height="26.7" fill="#B2DFDB"/>
<rect x="467.1" y="1643.2" width="30.4" height="18.7" fill="#B2DFDB"/>
<rect x="498.6" y="1650.2" width="30.4" height="11.7" fill="#B2DFDB"/>
<rect x="530.1" y="1657.2" width="30.4" height="4.7" fill="#B2DFDB"/>
<rect x="561.6" y="1653.2" width="30.4" height="8.7" fill="#26A69A"/>
<rect x="593.1" y="1652.2" width="30.4" height="9.7" fill="#26A69A"/>
<rect x="624.6" y="1653.2" width="30.4" height="8.7" fill="#B2DFDB"/>
<rect x="656.1" y="1654.2" width="30.4" height="7.7" fill="#B2DFDB"/>
<rect x="687.5" y="1654.2" width="30.4" height="7.7" fill="#B2DFDB"/>
<rect x="719.0" y="1655.2" width="30.4" height="6.7" fill="#B2DFDB"/>
<rect x="750.5" y="1659.2" width="30.4" height="2.7" fill="#B2DFDB"/>
<rect x="782.0" y="1661.0" width="30.4" height="2.4" fill="#FF5252"/>
<rect x="813.5" y="1661.0" width="30.4" height="4.6" fill="#FF5252"/>
<rect x="845.0" y="1661.0" width="30.4" height="9.6" fill="#FF5252"/>
<rect x="876.5" y="1661.0" width="30.4" height="10.6" fill="#FF5252"/>
<rect x="908.0" y="1661.0" width="30.4" height="9.6" fill="#FFCDD2"/>
<rect x="939.5" y="1661.0" width="30.4" height="7.6" fill="#FFCDD2"/>
<rect x="970.9" y="1661.0" width="30.4" height="6.6" fill="#FFCDD2"/>
<rect x="1002.4" y="1661.0" width="30.4" height="4.6" fill="#FFCDD2"/>
<rect x="1033.9" y="1661.0" width="30.4" height="4.6" fill="#FFCDD2"/>
<rect x="1065.4" y="1661.0" width="30.4" height="6.6" fill="#FF5252"/>
<rect x="1096.9" y="1661.0" width="30.4" height="7.6" fill="#FF5252"/>
<rect x="1128.4" y="1661.0" width="30.4" height="9.6" fill="#FF5252"/>
<rect x="1159.9" y="1661.0" width="30.4" height="12.6" fill="#FF5252"/>
<rect x="1191.4" y="1661.0" width="30.4" height="13.6" fill="#FF5252"/>
<rect x="1222.8" y="1661.0" width="30.4" height="14.6" fill="#FF5252"/>
<rect x="1254.3" y="1661.0" width="30.4" height="19.6" fill="#FF5252"/>
<rect x="1285.8" y="1661.0" width="30.4" height="22.6" fill="#FF5252"/>
<rect x="1317.3" y="1661.0" width="30.4" height="33.6" fill="#FF5252"/>
<rect x="1348.8" y="1661.0" width="30.4" height="42.6" fill="#FF5252"/>
<rect x="1380.3" y="1661.0" width="30.4" height="45.6" fill="#FF5252"/>
<rect x="1411.8" y="1661.0" width="30.4" height="45.6" fill="#FF5252"/>
<rect x="1443.3" y="1661.0" width="30.4" height="43.6" fill="#FFCDD2"/>
<rect x="1474.7" y="1661.0" width="30.4" height="41.6" fill="#FFCDD2"/>
<rect x="1506.2" y="1661.0" width="30.4" height="35.6" fill="#FFCDD2"/>
<rect x="1537.7" y="1661.0" width="30.4" height="25.6" fill="#FFCDD2"/>
<rect x="1569.2" y="1661.0" width="30.4" height="19.3" fill="#FFCDD2"/>
<rect x="1600.7" y="1661.0" width="30.4" height="14.6" fill="#FFCDD2"/>
<rect x="1632.2" y="1661.0" width="30.4" height="14.6" fill="#FFCDD2"/>
<rect x="1663.7" y="1661.0" width="30.4" height="13.6" fill="#FFCDD2"/>
<rect x="1695.2" y="1661.0" width="30.4" height="16.6" fill="#FF5252"/>
<rect x="1726.7" y="1661.0" width="30.4" height="19.6" fill="#FF5252"/>
<rect x="1758.1" y="1661.0" width="30.4" height="19.6" fill="#FF5252"/>
<rect x="1789.6" y="1661.0" width="30.4" height="18.6" fill="#FFCDD2"/>
<rect x="1821.1" y="1661.0" width="30.4" height="14.6" fill="#FFCDD2"/>
<rect x="1852.6" y="1661.0" width="30.4" height="9.6" fill="#FFCDD2"/>
<rect x="1884.1" y="1661.0" width="30.4" height="12.6" fill="#FF5252"/>
<rect x="1915.6" y="1661.0" width="30.4" height="15.6" fill="#FF5252"/>
<rect x="1947.1" y="1661.0" width="30.4" height="17.6" fill="#FF5252"/>
<rect x="1978.6" y="1661.0" width="30.4" height="20.6" fill="#FF5252"/>
<rect x="2010.0" y="1661.0" width="30.4" height="23.6" fill="#FF5252"/>
<rect x="2041.5" y="1661.0" width="30.4" height="20.6" fill="#FFCDD2"/>
<rect x="2073.0" y="1661.0" width="30.4" height="14.6" fill="#FFCDD2"/>
<rect x="2104.5" y="1661.0" width="30.4" height="11.6" fill="#FFCDD2"/>
<rect x="2136.0" y="1661.0" width="30.4" height="3.6" fill="#FFCDD2"/>
<rect x="2167.5" y="1661.0" width="30.4" height="2.6" fill="#FFCDD2"/>
<rect x="2199.0" y="1661.0" width="30.4" height="3.6" fill="#FFCDD2"/>
<rect x="2230.5" y="1661.0" width="30.4" height="5.6" fill="#FF5252"/>
<rect x="2261.9" y="1661.0" width="30.4" height="7.6" fill="#FF5252"/>
<rect x="2293.4" y="1661.0" width="30.4" height="5.6" fill="#FFCDD2"/>
<rect x="2324.9" y="1661.0" width="30.4" height="3.6" fill="#FFCDD2"/>
<rect x="2356.4" y="1661.0" width="30.4" height="1.9" fill="#FFCDD2"/>
<rect x="2387.9" y="1659.6" width="30.4" height="2.3" fill="#26A69A"/>
<rect x="2419.4" y="1661.0" width="30.4" height="1.8" fill="#FF5252"/>
<rect x="2450.9" y="1659.8" width="30.4" height="2.1" fill="#26A69A"/>
<rect x="2482.4" y="1659.2" width="30.4" height="2.7" fill="#26A69A"/>
<rect x="2513.9" y="1644.2" width="30.4" height="17.7" fill="#26A69A"/>
<rect x="2545.3" y="1626.2" width="30.4" height="35.7" fill="#26A69A"/>
<rect x="2576.8" y="1617.2" width="30.4" height="44.7" fill="#26A69A"/>
<rect x="2608.3" y="1613.2" width="30.4" height="48.7" fill="#26A69A"/>
<rect x="2639.8" y="1620.2" width="30.4" height="41.7" fill="#B2DFDB"/>
<rect x="2671.3" y="1633.2" width="30.4" height="28.7" fill="#B2DFDB"/>
<rect x="2702.8" y="1642.2" width="30.4" height="19.7" fill="#B2DFDB"/>
<rect x="2734.3" y="1653.2" width="30.4" height="8.7" fill="#B2DFDB"/>
<rect x="2765.8" y="1661.0" width="30.4" height="1.6" fill="#FF5252"/>
<rect x="2797.2" y="1661.0" width="30.4" height="10.2" fill="#FF5252"/>
<rect x="2828.7" y="1661.0" width="30.4" height="10.2" fill="#FFCDD2"/>
<rect x="2860.2" y="1661.0" width="30.4" height="19.2" fill="#FF5252"/>
<rect x="2891.7" y="1661.0" width="30.4" height="21.2" fill="#FF5252"/>
<polyline fill="none" stroke="#2962FF" stroke-width="1.9" stroke-linejoin="round" points="15.0,1615.5 41.4,1594.9 72.9,1578.9 104.4,1567.9 135.9,1559.2 167.4,1553.6 198.8,1538.9 230.3,1519.9 261.8,1507.3 293.3,1500.6 324.8,1494.0 356.3,1486.6 387.8,1480.0 419.3,1475.0 450.7,1475.3 482.2,1478.6 513.7,1482.6 545.2,1488.6 576.7,1483.3 608.2,1479.6 639.7,1478.6 671.2,1477.6 702.6,1476.3 734.1,1476.0 765.6,1480.0 797.1,1483.3 828.6,1486.0 860.1,1493.3 891.6,1497.3 923.1,1497.3 954.6,1498.0 986.0,1498.0 1017.5,1497.0 1049.0,1497.0 1080.5,1500.3 1112.0,1503.3 1143.5,1506.6 1175.0,1512.3 1206.5,1516.6 1237.9,1521.3 1269.4,1530.9 1300.9,1539.3 1332.4,1558.2 1363.9,1577.2 1395.4,1591.5 1426.9,1603.2 1458.4,1611.5 1489.8,1619.9 1521.3,1621.9 1552.8,1618.9 1584.3,1616.5 1615.8,1615.2 1647.3,1618.2 1678.8,1620.9 1710.3,1628.2 1741.8,1635.5 1773.2,1640.2 1804.7,1643.8 1836.2,1642.5 1867.7,1640.5 1899.2,1646.2 1930.7,1653.2 1962.2,1659.5 1993.7,1666.5 2025.1,1675.1 2056.6,1676.8 2088.1,1676.8 2119.6,1674.5 2151.1,1672.5 2182.6,1670.5 2214.1,1670.8 2245.6,1673.8 2277.0,1677.1 2308.5,1675.8 2340.0,1674.1 2371.5,1672.1 2403.0,1670.5 2434.5,1672.1 2466.0,1670.5 2497.5,1669.5 2529.0,1650.5 2560.4,1623.5 2591.9,1603.2 2623.4,1587.9 2654.9,1584.5 2686.4,1589.9 2717.9,1594.9 2749.4,1604.5 2780.9,1612.5 2812.3,1623.2 2843.8,1625.8 2875.3,1639.2 2906.8,1647.4"/>
<polyline fill="none" stroke="#FF6D00" stroke-width="1.9" stroke-linejoin="round" points="15.0,1628.5 41.4,1622.5 72.9,1613.2 104.4,1603.9 135.9,1594.9 167.4,1586.5 198.8,1577.2 230.3,1565.9 261.8,1553.9 293.3,1542.6 324.8,1532.6 356.3,1523.3 387.8,1514.9 419.3,1507.3 450.7,1501.0 482.2,1496.6 513.7,1493.6 545.2,1493.0 576.7,1491.3 608.2,1489.0 639.7,1487.0 671.2,1485.0 702.6,1483.3 734.1,1482.0 765.6,1481.6 797.1,1482.0 828.6,1482.6 860.1,1485.0 891.6,1487.3 923.1,1489.3 954.6,1491.0 986.0,1492.0 1017.5,1493.0 1049.0,1494.0 1080.5,1495.3 1112.0,1496.6 1143.5,1499.0 1175.0,1501.6 1206.5,1504.6 1237.9,1508.0 1269.4,1512.3 1300.9,1518.3 1332.4,1526.0 1363.9,1536.6 1395.4,1547.6 1426.9,1558.6 1458.4,1569.0 1489.8,1579.2 1521.3,1587.5 1552.8,1593.5 1584.3,1598.2 1615.8,1601.7 1647.3,1605.0 1678.8,1608.5 1710.3,1612.5 1741.8,1617.2 1773.2,1621.9 1804.7,1626.2 1836.2,1629.5 1867.7,1631.8 1899.2,1634.5 1930.7,1638.2 1962.2,1642.5 1993.7,1647.2 2025.1,1652.8 2056.6,1657.5 2088.1,1661.5 2119.6,1664.2 2151.1,1666.2 2182.6,1667.5 2214.1,1668.5 2245.6,1669.8 2277.0,1671.1 2308.5,1672.1 2340.0,1672.5 2371.5,1672.1 2403.0,1671.8 2434.5,1672.1 2466.0,1671.5 2497.5,1671.1 2529.0,1667.5 2560.4,1658.2 2591.9,1646.5 2623.4,1635.2 2654.9,1625.2 2686.4,1618.2 2717.9,1613.5 2749.4,1611.9 2780.9,1611.9 2812.3,1614.2 2843.8,1616.2 2875.3,1621.2 2906.8,1626.9"/>
</g>
<text x="27.3" y="1476.0" font-size="16.8" fill="#131722" textLength="165.2" lengthAdjust="spacingAndGlyphs" >MACD (12, 26, close)</text>
<text x="205.5" y="1476.0" font-size="16.8" fill="#FF5252" textLength="42.0" lengthAdjust="spacingAndGlyphs" >−2.61</text>
<text x="260.8" y="1476.0" font-size="16.8" fill="#2962FF" textLength="33.6" lengthAdjust="spacingAndGlyphs" >1.70</text>
<text x="305.8" y="1476.0" font-size="16.8" fill="#FF6D00" textLength="32.9" lengthAdjust="spacingAndGlyphs" >4.31</text>
<text x="2881.3" y="1536.6" font-size="30.2" fill="#131722" textLength="197.2" lengthAdjust="spacingAndGlyphs" >MACD- Crossed</text>
<path d="M2907.3 1550.9 L2812.3 1600.9 M2817 1590.5 L2812.3 1600.9 L2823.3 1603.9" fill="none" stroke="#131722" stroke-width="1.3"/>
<text x="27.4" y="1759.0" font-size="16.8" fill="#131722" textLength="113.8" lengthAdjust="spacingAndGlyphs" >RSI (14, close)</text>
<text x="152.7" y="1759.0" font-size="16.8" fill="#7E57C2" textLength="43.6" lengthAdjust="spacingAndGlyphs" >46.60</text>
<text x="208.2" y="1759.0" font-size="16.8" fill="#FFEB3B" textLength="43.6" lengthAdjust="spacingAndGlyphs" >58.60</text>
<ellipse cx="268.6" cy="1753.4" rx="3.9" ry="4.9" fill="none" stroke="#131722" stroke-width="1.1"/><line x1="265.0" y1="1760" x2="272.40000000000003" y2="1746.6" stroke="#131722" stroke-width="1"/>
<ellipse cx="291.4" cy="1753.4" rx="3.9" ry="4.9" fill="none" stroke="#131722" stroke-width="1.1"/><line x1="287.79999999999995" y1="1760" x2="295.2" y2="1746.6" stroke="#131722" stroke-width="1"/>
<ellipse cx="314.6" cy="1753.4" rx="3.9" ry="4.9" fill="none" stroke="#131722" stroke-width="1.1"/><line x1="311.0" y1="1760" x2="318.40000000000003" y2="1746.6" stroke="#131722" stroke-width="1"/>
<ellipse cx="337.4" cy="1753.4" rx="3.9" ry="4.9" fill="none" stroke="#131722" stroke-width="1.1"/><line x1="333.79999999999995" y1="1760" x2="341.2" y2="1746.6" stroke="#131722" stroke-width="1"/>
<ellipse cx="360.1" cy="1753.4" rx="3.9" ry="4.9" fill="none" stroke="#131722" stroke-width="1.1"/><line x1="356.5" y1="1760" x2="363.90000000000003" y2="1746.6" stroke="#131722" stroke-width="1"/>
<ellipse cx="383" cy="1753.4" rx="3.9" ry="4.9" fill="none" stroke="#131722" stroke-width="1.1"/><line x1="379.4" y1="1760" x2="386.8" y2="1746.6" stroke="#131722" stroke-width="1"/>
<text x="27.4" y="1810.2" font-size="16.8" fill="#131722" textLength="149.6" lengthAdjust="spacingAndGlyphs" >ATR · 1D (14, RMA)</text>
<text x="189.7" y="1810.2" font-size="16.8" fill="#B71C1C" textLength="42.7" lengthAdjust="spacingAndGlyphs" >26.63</text>
<line x1="15" x2="3341" y1="1446.5" y2="1446.5" stroke="#B2B5C2" stroke-width="1"/>
<line x1="15" x2="3341" y1="1729.5" y2="1729.5" stroke="#B2B5C2" stroke-width="1"/>
<line x1="15" x2="3341" y1="1780.5" y2="1780.5" stroke="#B2B5C2" stroke-width="1"/>
<line x1="15" x2="3341" y1="1831.5" y2="1831.5" stroke="#000" stroke-width="1.1"/>
<line x1="3224.5" x2="3224.5" y1="41" y2="1883.6" stroke="#000" stroke-width="1.1"/>
<text x="105.0" y="1865.2" font-size="23.4" fill="#131722" text-anchor="middle" >4</text>
<text x="293.9" y="1865.2" font-size="23.4" fill="#131722" text-anchor="middle" >5</text>
<text x="482.8" y="1865.2" font-size="23.4" fill="#131722" text-anchor="middle" >6</text>
<text x="671.8" y="1865.2" font-size="23.4" fill="#131722" text-anchor="middle" >7</text>
<text x="860.7" y="1865.2" font-size="23.4" fill="#131722" text-anchor="middle" >8</text>
<text x="1049.6" y="1865.2" font-size="23.4" fill="#131722" font-weight="bold" text-anchor="middle" >11</text>
<text x="1238.5" y="1865.2" font-size="23.4" fill="#131722" text-anchor="middle" >12</text>
<text x="1427.5" y="1865.2" font-size="23.4" fill="#131722" text-anchor="middle" >13</text>
<text x="1616.4" y="1865.2" font-size="23.4" fill="#131722" text-anchor="middle" >14</text>
<text x="1805.3" y="1865.2" font-size="23.4" fill="#131722" text-anchor="middle" >15</text>
<text x="1994.3" y="1865.2" font-size="23.4" fill="#131722" font-weight="bold" text-anchor="middle" >18</text>
<text x="2183.2" y="1865.2" font-size="23.4" fill="#131722" text-anchor="middle" >19</text>
<text x="2372.1" y="1865.2" font-size="23.4" fill="#131722" text-anchor="middle" >20</text>
<text x="2561.0" y="1865.2" font-size="23.4" fill="#131722" text-anchor="middle" >21</text>
<text x="2750.0" y="1865.2" font-size="23.4" fill="#131722" text-anchor="middle" >22</text>
<text x="2938.9" y="1865.2" font-size="23.4" fill="#131722" font-weight="bold" text-anchor="middle" >25</text>
<text x="3127.8" y="1865.2" font-size="23.4" fill="#131722" text-anchor="middle" >26</text>
<g clip-path="url(#cax)">
<text x="3240.3" y="129.7" font-size="24.6" fill="#131722" textLength="83.7" lengthAdjust="spacingAndGlyphs" >2230.00</text>
<text x="3240.3" y="212.3" font-size="24.6" fill="#131722" textLength="83.7" lengthAdjust="spacingAndGlyphs" >2220.00</text>
<text x="3240.3" y="294.9" font-size="24.6" fill="#131722" textLength="83.7" lengthAdjust="spacingAndGlyphs" >2210.00</text>
<text x="3240.3" y="377.6" font-size="24.6" fill="#131722" textLength="83.7" lengthAdjust="spacingAndGlyphs" >2200.00</text>
<text x="3240.3" y="460.2" font-size="24.6" fill="#131722" textLength="83.7" lengthAdjust="spacingAndGlyphs" >2190.00</text>
<text x="3240.3" y="542.8" font-size="24.6" fill="#131722" textLength="83.7" lengthAdjust="spacingAndGlyphs" >2180.00</text>
<text x="3240.3" y="625.4" font-size="24.6" fill="#131722" textLength="83.7" lengthAdjust="spacingAndGlyphs" >2170.00</text>
<text x="3240.3" y="708.0" font-size="24.6" fill="#131722" textLength="83.7" lengthAdjust="spacingAndGlyphs" >2160.00</text>
<text x="3240.3" y="790.7" font-size="24.6" fill="#131722" textLength="83.7" lengthAdjust="spacingAndGlyphs" >2150.00</text>
<text x="3240.3" y="873.3" font-size="24.6" fill="#131722" textLength="83.7" lengthAdjust="spacingAndGlyphs" >2140.00</text>
<text x="3240.3" y="955.9" font-size="24.6" fill="#131722" textLength="83.7" lengthAdjust="spacingAndGlyphs" >2130.00</text>
<text x="3240.3" y="1038.5" font-size="24.6" fill="#131722" textLength="83.7" lengthAdjust="spacingAndGlyphs" >2120.00</text>
<text x="3240.3" y="1121.1" font-size="24.6" fill="#131722" textLength="83.7" lengthAdjust="spacingAndGlyphs" >2110.00</text>
<text x="3240.3" y="1203.8" font-size="24.6" fill="#131722" textLength="83.7" lengthAdjust="spacingAndGlyphs" >2100.00</text>
<text x="3240.3" y="1286.4" font-size="24.6" fill="#131722" textLength="83.7" lengthAdjust="spacingAndGlyphs" >2090.00</text>
<text x="3240.3" y="1369.0" font-size="24.6" fill="#131722" textLength="83.7" lengthAdjust="spacingAndGlyphs" >2080.00</text>
<text x="3240.3" y="1451.6" font-size="24.6" fill="#131722" textLength="83.7" lengthAdjust="spacingAndGlyphs" >2070.00</text>
</g>
<text x="3240.4" y="1509.7" font-size="24.6" fill="#131722" textLength="58.2" lengthAdjust="spacingAndGlyphs" >20.00</text>
<text x="3240.4" y="1588.8" font-size="24.6" fill="#131722" textLength="58.2" lengthAdjust="spacingAndGlyphs" >10.00</text>
<rect x="3230" y="47.5" width="104" height="38" rx="5" fill="#fff" stroke="#EBEDF3" stroke-width="1.6"/>
<text x="3245.0" y="73.7" font-size="24" fill="#131722" textLength="40.3" lengthAdjust="spacingAndGlyphs" >USD</text>
<path d="M3224.5 164.7 h107.2 a3 3 0 0 1 3 3 v28.5 a3 3 0 0 1 -3 3 h-107.2 z" fill="#F23645"/>
<rect x="3219.5" y="180.4" width="5" height="3" fill="#F23645"/>
<text x="3240.3" y="190.7" font-size="24.6" fill="#fff" textLength="83.7" lengthAdjust="spacingAndGlyphs" stroke="#fff" stroke-width="0.5">2222.76</text>
<path d="M3224.5 300.0 h107.2 a3 3 0 0 1 3 3 v28.5 a3 3 0 0 1 -3 3 h-107.2 z" fill="#2962FF"/>
<text x="3240.3" y="326.0" font-size="24.6" fill="#fff" textLength="83.7" lengthAdjust="spacingAndGlyphs" stroke="#fff" stroke-width="0.5">2206.36</text>
<path d="M3224.5 467.9 h107.2 a3 3 0 0 1 3 3 v28.5 a3 3 0 0 1 -3 3 h-107.2 z" fill="#F23645"/>
<rect x="3219.5" y="483.7" width="5" height="3" fill="#F23645"/>
<text x="3240.3" y="494.0" font-size="24.6" fill="#fff" textLength="83.7" lengthAdjust="spacingAndGlyphs" stroke="#fff" stroke-width="0.5">2185.98</text>
<path d="M3224.5 582.1 h107.2 a3 3 0 0 1 3 3 v28.5 a3 3 0 0 1 -3 3 h-107.2 z" fill="#2962FF"/>
<text x="3240.3" y="608.1" font-size="24.6" fill="#fff" textLength="83.7" lengthAdjust="spacingAndGlyphs" stroke="#fff" stroke-width="0.5">2172.24</text>
<path d="M3224.5 643.0 h107.2 a3 3 0 0 1 3 3 v28.5 a3 3 0 0 1 -3 3 h-107.2 z" fill="#A566FF"/>
<text x="3240.3" y="669.0" font-size="24.6" fill="#fff" textLength="83.7" lengthAdjust="spacingAndGlyphs" stroke="#fff" stroke-width="0.5">2164.89</text>
<path d="M3224.5 769.9 h107.2 a3 3 0 0 1 3 3 v28.5 a3 3 0 0 1 -3 3 h-107.2 z" fill="#089981"/>
<rect x="3219.5" y="785.6" width="5" height="3" fill="#089981"/>
<text x="3240.3" y="795.9" font-size="24.6" fill="#fff" textLength="83.7" lengthAdjust="spacingAndGlyphs" stroke="#fff" stroke-width="0.5">2149.47</text>
<path d="M3224.5 863.3 h107.2 a3 3 0 0 1 3 3 v28.5 a3 3 0 0 1 -3 3 h-107.2 z" fill="#2962FF"/>
<text x="3240.3" y="889.3" font-size="24.6" fill="#fff" textLength="83.7" lengthAdjust="spacingAndGlyphs" stroke="#fff" stroke-width="0.5">2138.13</text>
<path d="M3224.5 984.0 h107.2 a3 3 0 0 1 3 3 v28.5 a3 3 0 0 1 -3 3 h-107.2 z" fill="#089981"/>
<rect x="3219.5" y="999.7" width="5" height="3" fill="#089981"/>
<text x="3240.3" y="1010.0" font-size="24.6" fill="#fff" textLength="83.7" lengthAdjust="spacingAndGlyphs" stroke="#fff" stroke-width="0.5">2123.56</text>
<path d="M3224.5 1335.3 h107.2 a3 3 0 0 1 3 3 v28.5 a3 3 0 0 1 -3 3 h-107.2 z" fill="#089981"/>
<rect x="3219.5" y="1351.1" width="5" height="3" fill="#089981"/>
<text x="3240.3" y="1361.4" font-size="24.6" fill="#fff" textLength="83.7" lengthAdjust="spacingAndGlyphs" stroke="#fff" stroke-width="0.5">2080.96</text>
<path d="M3224.5 1596.3 h70.2 a3 3 0 0 1 3 3 v28.2 a3 3 0 0 1 -3 3 h-70.2 z" fill="#FF6D00"/>
<text x="3240.4" y="1622.2" font-size="24.6" fill="#fff" textLength="46.0" lengthAdjust="spacingAndGlyphs" stroke="#fff" stroke-width="0.5">4.31</text>
<path d="M3224.5 1630.5 h70.2 a3 3 0 0 1 3 3 v28.2 a3 3 0 0 1 -3 3 h-70.2 z" fill="#2962FF"/>
<text x="3240.4" y="1656.4" font-size="24.6" fill="#fff" textLength="46.0" lengthAdjust="spacingAndGlyphs" stroke="#fff" stroke-width="0.5">1.70</text>
<path d="M3224.5 1664.7 h82.2 a3 3 0 0 1 3 3 v28.2 a3 3 0 0 1 -3 3 h-82.2 z" fill="#FF5252"/>
<text x="3240.4" y="1690.6" font-size="24.6" fill="#fff" textLength="56.4" lengthAdjust="spacingAndGlyphs" stroke="#fff" stroke-width="0.5">−2.61</text>
<g transform="translate(15.5,1900.1) scale(0.825)" fill="#131722"><path d="M14 22H7V11H0V4h14v18zM28 22h-8l7.5-18h8L28 22z"/><circle cx="20" cy="8" r="4"/></g>
<text x="50.6" y="1918.3" font-size="19" fill="#131722" textLength="104.4" lengthAdjust="spacingAndGlyphs" stroke="#131722" stroke-width="0.45">TradingView</text>
</svg>
</body></html>
